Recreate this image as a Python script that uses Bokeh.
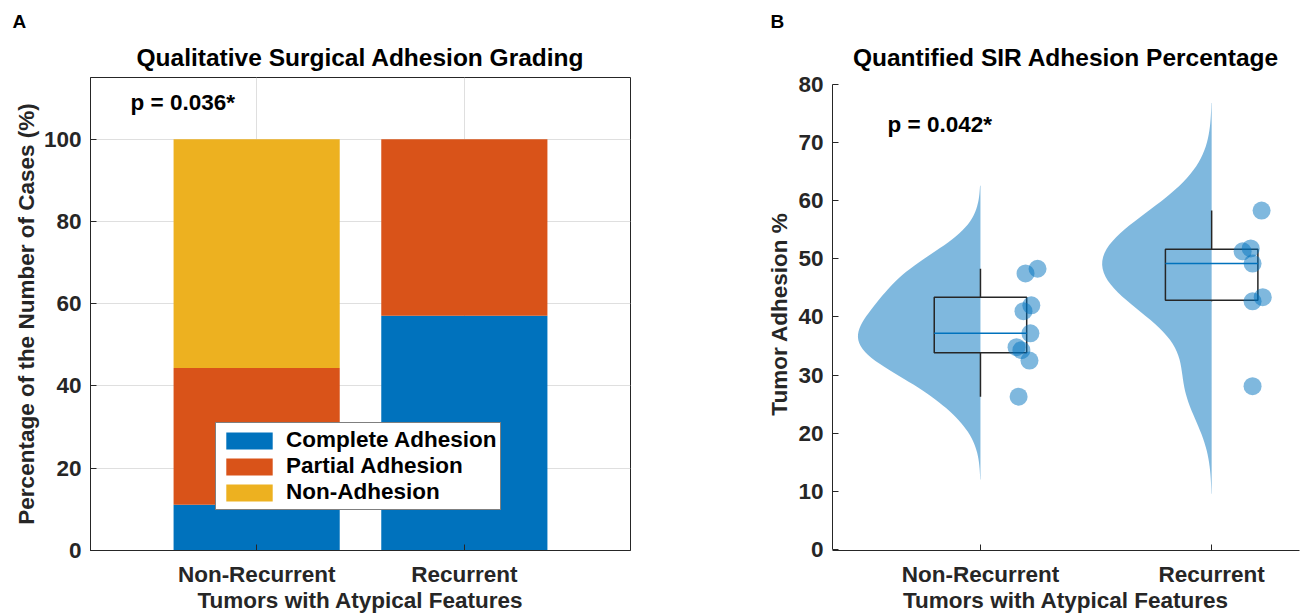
import numpy as np
from bokeh.plotting import figure
from bokeh.models import ColumnDataSource, FixedTicker, Label, Legend, Title
from bokeh.layouts import row
from bokeh.embed import file_html
from bokeh.resources import INLINE

# ---------------- data ----------------
categories = ["Non-Recurrent", "Recurrent"]
cat_x = [1, 2]
complete_pct = [11.1, 57.1]
partial_pct = [33.3, 42.9]
non_pct = [55.6, 0.0]
stack_names = ["Complete Adhesion", "Partial Adhesion", "Non-Adhesion"]
stack_colors = ["#0072BD", "#D95319", "#EDB120"]

nonrec_vals = [47.5, 48.3, 42.0, 41.0, 37.2, 34.8, 34.3, 32.5, 26.3]
nonrec_jitter = [0.195, 0.247, 0.22, 0.186, 0.216, 0.156, 0.177, 0.212, 0.165]
rec_vals = [58.3, 51.3, 51.8, 49.2, 42.7, 43.4, 28.1]
rec_jitter = [0.216, 0.134, 0.169, 0.177, 0.177, 0.221, 0.177]

p_text_a = "p = 0.036*"
p_text_b = "p = 0.042*"

FONT = "Liberation Sans"
FS = "22.5px"
TXT = "#262626"


def style_axes(p):
    for ax in (p.xaxis[0], p.yaxis[0]):
        ax.axis_line_color = TXT
        ax.major_tick_line_color = TXT
        ax.major_tick_in = 6
        ax.major_tick_out = 0
        ax.minor_tick_line_color = None
        ax.major_label_text_font = FONT
        ax.major_label_text_font_size = FS
        ax.major_label_text_font_style = "bold"
        ax.major_label_text_color = TXT
        ax.axis_label_text_font = FONT
        ax.axis_label_text_font_size = FS
        ax.axis_label_text_font_style = "bold"
        ax.axis_label_text_color = TXT
    p.xaxis.major_label_standoff = 11
    p.xaxis.axis_label_standoff = -2
    p.yaxis.major_label_standoff = 9


def add_titles(p, main, main_offset, letter, letter_offset):
    p.add_layout(Title(text=main, align="center", offset=main_offset, text_font=FONT,
                       text_font_size="24.5px", text_font_style="bold", text_color="black",
                       standoff=13), "above")
    p.add_layout(Title(text=letter, align="left", offset=letter_offset, text_font=FONT,
                       text_font_size="19px", text_font_style="bold", text_color="black",
                       standoff=7), "above")


def add_label(p, x, y, text, size, align="center"):
    p.add_layout(Label(x=x, y=y, text=text, text_font=FONT, text_font_size=size,
                       text_font_style="bold", text_color="black",
                       text_align=align, text_baseline="middle"))


# ---------------- panel A ----------------
pA = figure(width=700, height=615, x_range=(0.2, 2.8), y_range=(0, 115),
            output_backend="svg", toolbar_location=None,
            min_border_left=90, min_border_right=70, min_border_top=77, min_border_bottom=65)
srcA = ColumnDataSource(dict(x=cat_x, complete=complete_pct, partial=partial_pct, non=non_pct))
rs = pA.vbar_stack(["complete", "partial", "non"], x="x", width=0.8, source=srcA,
                   color=stack_colors, line_color=None)
pA.xaxis.ticker = FixedTicker(ticks=cat_x)
pA.xaxis.major_label_overrides = {1: categories[0], 2: categories[1]}
pA.yaxis.ticker = FixedTicker(ticks=[0, 20, 40, 60, 80, 100])
pA.xaxis.axis_label = "Tumors with Atypical Features"
pA.yaxis.axis_label = "Percentage of the Number of Cases (%)"
style_axes(pA)
pA.yaxis.axis_label_standoff = 2
pA.xgrid.grid_line_color = "#dfdfdf"
pA.ygrid.grid_line_color = "#dfdfdf"
pA.outline_line_color = TXT
pA.outline_line_alpha = 1

legA = Legend(items=[(n, [r]) for n, r in zip(stack_names, rs)], location=(125, 40),
              glyph_width=58, glyph_height=21, label_standoff=8, spacing=0, padding=4,
              margin=0, border_line_color="black", border_line_width=1,
              label_text_font=FONT, label_text_font_size=FS, label_text_font_style="bold",
              label_text_color="black", background_fill_alpha=1)
pA.add_layout(legA)

add_titles(pA, "Qualitative Surgical Adhesion Grading", 5, "A", -78)
add_label(pA, 0.393, 108.9, p_text_a, FS, align="left")

# ---------------- panel B ----------------
pB = figure(width=603, height=615, x_range=(0.36, 2.38), y_range=(-0.17, 81.2),
            output_backend="svg", toolbar_location=None,
            min_border_left=132, min_border_right=4, min_border_top=77, min_border_bottom=65)


def prctile(v, q):
    s = np.sort(np.asarray(v, float))
    n = len(s)
    pos = n * q / 100.0 + 0.5
    if pos <= 1:
        return s[0]
    if pos >= n:
        return s[-1]
    i = int(np.floor(pos))
    return s[i - 1] + (pos - i) * (s[i] - s[i - 1])


def ksdensity(v):
    v = np.asarray(v, float)
    n = len(v)
    sig = np.median(np.abs(v - np.median(v))) / 0.6745
    bw = sig * (4.0 / (3.0 * n)) ** 0.2
    grid = np.linspace(v.min() - 3 * bw, v.max() + 3 * bw, 100)
    z = (grid[:, None] - v[None, :]) / bw
    f = np.exp(-0.5 * z ** 2).sum(axis=1) / (n * bw * np.sqrt(2 * np.pi))
    return grid, f


groups = [(1, nonrec_vals, nonrec_jitter), (2, rec_vals, rec_jitter)]
dens = [ksdensity(v) for _, v, _ in groups]
vmax = max(f.max() for _, f in dens)
half_width = 0.53
blue = "#0072BD"

for (cx, vals, jit), (g, f) in zip(groups, dens):
    xs = np.concatenate([[cx], cx - f / vmax * half_width, [cx]])
    ys = np.concatenate([[g[0]], g, [g[-1]]])
    pB.patch(xs, ys, fill_color=blue, fill_alpha=0.5, line_color=None)

for cx, vals, jit in groups:
    v = np.asarray(vals, float)
    q1, med, q3 = prctile(v, 25), prctile(v, 50), prctile(v, 75)
    iqr = q3 - q1
    up = v[v <= q3 + 1.5 * iqr].max()
    lo = v[v >= q1 - 1.5 * iqr].min()
    bw2 = 0.2
    pB.segment(x0=[cx, cx], y0=[q3, q1], x1=[cx, cx], y1=[up, lo], line_color=TXT, line_width=1.5)
    pB.quad(left=cx - bw2, right=cx + bw2, bottom=q1, top=q3, fill_color=None,
            line_color=TXT, line_width=1.5)
    pB.segment(x0=[cx - bw2], y0=[med], x1=[cx + bw2], y1=[med], line_color=blue, line_width=1.5)
    pB.scatter(x=cx + np.asarray(jit), y=v, size=18, fill_color=blue, fill_alpha=0.5,
               line_color=None)

pB.xaxis.ticker = FixedTicker(ticks=cat_x)
pB.xaxis.major_label_overrides = {1: categories[0], 2: categories[1]}
pB.yaxis.ticker = FixedTicker(ticks=list(range(0, 81, 10)))
pB.yaxis.bounds = (0, 80)
pB.xaxis.axis_label = "Tumors with Atypical Features"
pB.yaxis.axis_label = "Tumor Adhesion %"
style_axes(pB)
pB.yaxis.axis_label_standoff = 3
pB.xgrid.grid_line_color = None
pB.ygrid.grid_line_color = None
pB.outline_line_color = None

add_titles(pB, "Quantified SIR Adhesion Percentage", 0, "B", -62)
add_label(pB, 0.598, 73.1, p_text_b, FS, align="left")

layout = row(pA, pB)
open("out.html", "w").write(file_html(layout, INLINE))
